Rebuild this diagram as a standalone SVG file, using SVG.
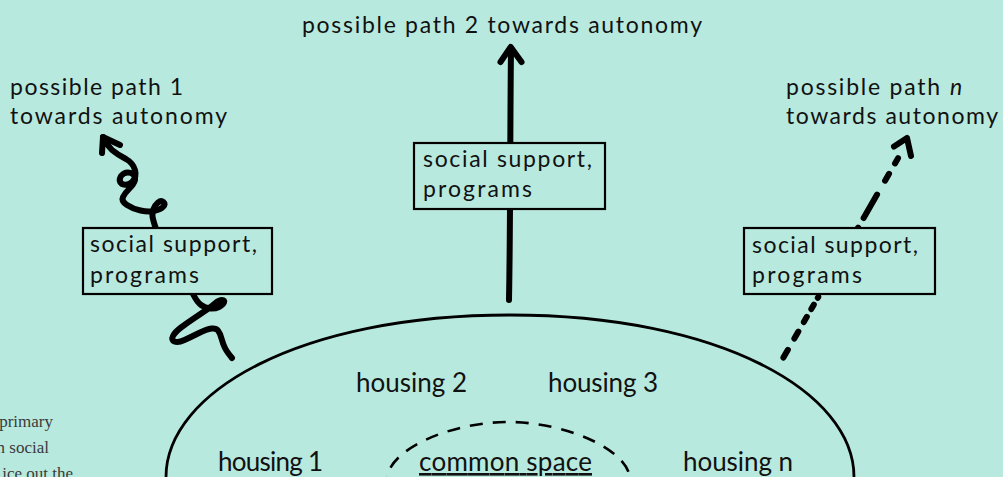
<svg xmlns="http://www.w3.org/2000/svg" width="1003" height="477" viewBox="0 0 1003 477">
<defs>
<style>
.bg{fill:#b8e9de}
.lbl{font-family:Lato,"Open Sans","Liberation Sans",sans-serif;font-size:23px;fill:#111}
.hs{font-family:Lato,"Open Sans","Liberation Sans",sans-serif;font-size:26px;fill:#111}
.note{font-family:"Liberation Serif","DejaVu Serif",serif;font-size:17px;fill:#3a3a3a}
.box{fill:#b8e9de;stroke:#000;stroke-width:2.2}
.wire{fill:none;stroke:#000;stroke-width:6;stroke-linecap:round;stroke-linejoin:round}
.outline{fill:none;stroke:#000;stroke-width:2.8}
.dash{fill:none;stroke:#000;stroke-width:2.6;stroke-dasharray:13 10}
</style>
</defs>
<rect class="bg" x="0" y="0" width="1003" height="477"/>

<g id="side-note">
<text class="note" x="53" y="427" text-anchor="end">primary</text>
<text class="note" x="49" y="453" text-anchor="end">n social</text>
<text class="note" x="73" y="479" text-anchor="end">ice out the</text>
</g>

<g id="connectors">
<path class="wire" d="M156,229 Q153,220 152.5,216.5 Q152,213 153.5,209 Q155,205 158,202.5 Q161,200 163.5,202 Q166,204 163,207 Q160,210 154,211 Q148,212 140.5,210.5 Q133,209 127,205 Q121,201 123,197 Q125,193 129,189 Q134,184 135,180 Q136,175 131,173 Q125,171 121,176 Q118,181 122,184 Q127,186 132,182 Q137,177 135,170 Q133,163 126,159 Q118,155 112,150 Q106,144 103,137"/>
<path class="wire" d="M102,153 L103,137 L120,145"/>
<path class="wire" d="M193,294 Q197,302 201,305 Q205,308 210,308.5 Q215,309 219,307 Q223,305 224,302.5 Q225,300 222,300 Q219,300 215.5,303 Q212,306 207,309.5 Q202,313 194.5,318 Q187,323 181,327.5 Q175,332 173,336 Q171,340 174.5,341.5 Q178,343 184.5,340 Q191,337 199,333 Q207,329 211.5,328.5 Q216,328 218,330.5 Q220,333 221.5,338.5 Q223,344 225,348 Q227,352 232,358"/>
<path class="wire" d="M509,300 C510.5,220 510,130 511,49"/>
<path class="wire" d="M500.5,62 L510.7,47 L521.5,62"/>
<path class="wire" style="stroke-dasharray:9 13 8 11 6 9 5 8 1 79 1 11 27 16 8 12 6 100" d="M783.4,357.6 L905,146"/>
<path class="wire" d="M894,146.5 L907,138 L911,156"/>
</g>

<g id="community">
<path class="outline" d="M166,495 L166,477 C166,392 300,315 510,315 C720,315 854,392 854,477 L854,495"/>
<path class="dash" d="M387,490 L387,480 C387,450 450,422 508,422 C566,422 630,450 630,480 L630,490"/>
</g>

<g id="housing-1"><text class="hs" x="218" y="471" textLength="105" lengthAdjust="spacing">housing 1</text></g>
<g id="housing-2"><text class="hs" x="356" y="392" textLength="111" lengthAdjust="spacing">housing 2</text></g>
<g id="housing-3"><text class="hs" x="548" y="392" textLength="110" lengthAdjust="spacing">housing 3</text></g>
<g id="housing-n"><text class="hs" x="683" y="471" textLength="110" lengthAdjust="spacing">housing n</text></g>
<g id="common-space"><text class="hs" x="419" y="471" textLength="173" lengthAdjust="spacing" text-decoration="underline">common space</text></g>

<g id="support-left">
<rect class="box" x="83" y="228" width="189" height="66"/>
<text class="lbl" x="90" y="252" textLength="167" lengthAdjust="spacing">social support,</text>
<text class="lbl" x="90" y="283" textLength="109" lengthAdjust="spacing">programs</text>
</g>
<g id="support-center">
<rect class="box" x="414" y="143" width="191" height="66"/>
<text class="lbl" x="423" y="167" textLength="169" lengthAdjust="spacing">social support,</text>
<text class="lbl" x="423" y="197" textLength="109" lengthAdjust="spacing">programs</text>
</g>
<g id="support-right">
<rect class="box" x="744" y="228" width="191" height="66"/>
<text class="lbl" x="752" y="253" textLength="166" lengthAdjust="spacing">social support,</text>
<text class="lbl" x="752" y="283" textLength="110" lengthAdjust="spacing">programs</text>
</g>

<g id="goal-1">
<text class="lbl" x="10" y="95" textLength="173" lengthAdjust="spacing">possible path 1</text>
<text class="lbl" x="10" y="124" textLength="217" lengthAdjust="spacing">towards autonomy</text>
</g>
<g id="goal-2">
<text class="lbl" x="302" y="33" textLength="400" lengthAdjust="spacing">possible path 2 towards autonomy</text>
</g>
<g id="goal-n">
<text class="lbl" x="786" y="95" textLength="154" lengthAdjust="spacing">possible path</text>
<text class="lbl" x="950" y="95" font-style="italic">n</text>
<text class="lbl" x="786" y="124" textLength="212" lengthAdjust="spacing">towards autonomy</text>
</g>
</svg>
